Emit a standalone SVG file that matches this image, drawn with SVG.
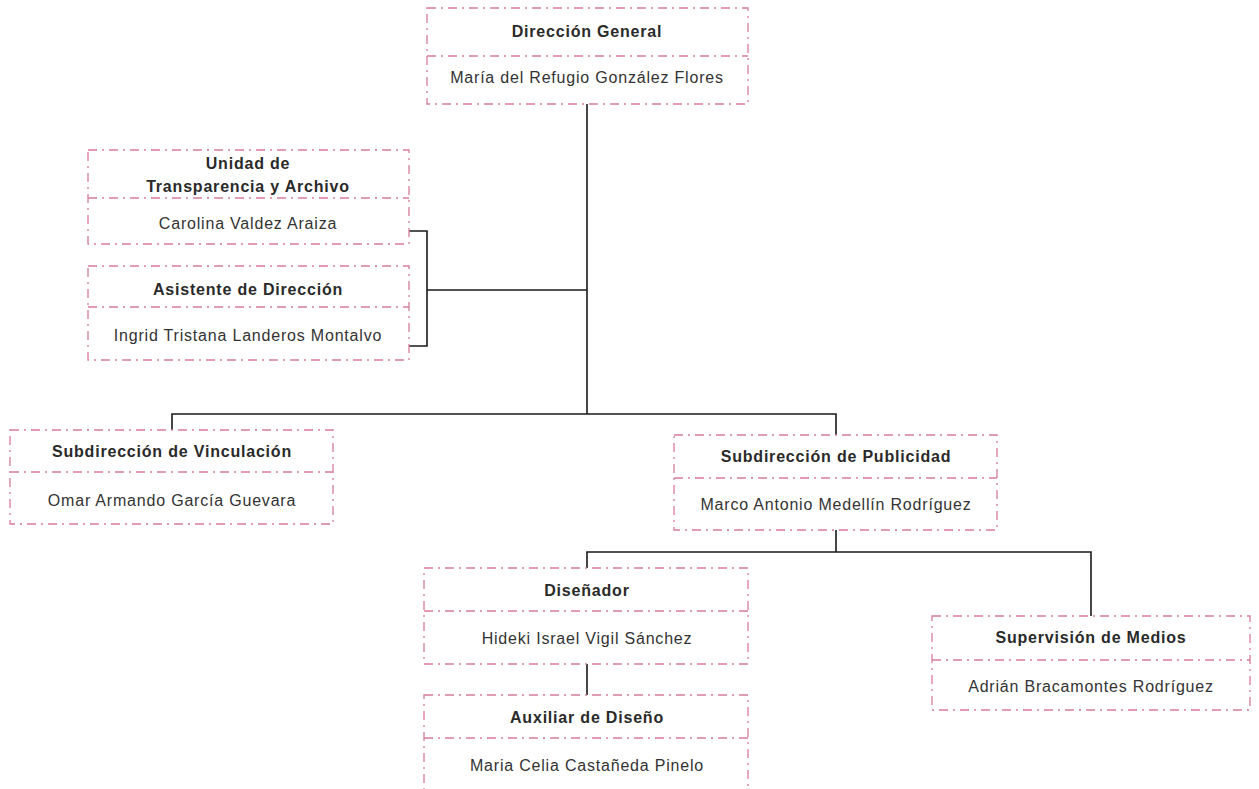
<svg xmlns="http://www.w3.org/2000/svg" width="1259" height="789" viewBox="0 0 1259 789">
<style>
.box{fill:#fff;stroke:#d67d98;stroke-width:1.3;stroke-dasharray:9 5 2 5}
.div{fill:none;stroke:#d67d98;stroke-width:1.3;stroke-dasharray:9 5 2 5}
.t{font-family:"Liberation Sans",Arial,sans-serif;font-size:16px;font-weight:bold;letter-spacing:0.8px;fill:#2a2a2a;text-anchor:middle}
.n{font-family:"Liberation Sans",Arial,sans-serif;font-size:16px;letter-spacing:0.8px;fill:#333;text-anchor:middle}
.c{fill:none;stroke:#1a1a1a;stroke-width:1.6}
</style>
<rect width="1259" height="789" fill="#fff"/>
<g id="connectors">
<path class="c" d="M587 104V414"/>
<path class="c" d="M409 231H427V346H409M427 290H587"/>
<path class="c" d="M172 430V414H836V435"/>
<path class="c" d="M836 530V552M587 568V552H1091V616"/>
<path class="c" d="M587 664V695"/>
</g>
<g id="direccion-general">
<rect class="box" x="427" y="8" width="321" height="96"/>
<path class="div" d="M427 56H748"/>
<text class="t" x="587" y="37">Dirección General</text>
<text class="n" x="587" y="83">María del Refugio González Flores</text>
</g>
<g id="unidad-transparencia">
<rect class="box" x="88" y="150" width="321" height="94"/>
<path class="div" d="M88 198H409"/>
<text class="t" x="248" y="169">Unidad de</text>
<text class="t" x="248" y="192">Transparencia y Archivo</text>
<text class="n" x="248" y="229">Carolina Valdez Araiza</text>
</g>
<g id="asistente-direccion">
<rect class="box" x="88" y="266" width="321" height="94"/>
<path class="div" d="M88 307H409"/>
<text class="t" x="248" y="295">Asistente de Dirección</text>
<text class="n" x="248" y="341">Ingrid Tristana Landeros Montalvo</text>
</g>
<g id="subdireccion-vinculacion">
<rect class="box" x="10" y="430" width="323" height="94"/>
<path class="div" d="M10 472H333"/>
<text class="t" x="172" y="457">Subdirección de Vinculación</text>
<text class="n" x="172" y="506">Omar Armando García Guevara</text>
</g>
<g id="subdireccion-publicidad">
<rect class="box" x="674" y="435" width="323" height="95"/>
<path class="div" d="M674 478H997"/>
<text class="t" x="836" y="462">Subdirección de Publicidad</text>
<text class="n" x="836" y="510">Marco Antonio Medellín Rodríguez</text>
</g>
<g id="disenador">
<rect class="box" x="424" y="568" width="324" height="96"/>
<path class="div" d="M424 611H748"/>
<text class="t" x="587" y="596">Diseñador</text>
<text class="n" x="587" y="644">Hideki Israel Vigil Sánchez</text>
</g>
<g id="auxiliar-diseno">
<rect class="box" x="424" y="695" width="324" height="98"/>
<path class="div" d="M424 738H748"/>
<text class="t" x="587" y="723">Auxiliar de Diseño</text>
<text class="n" x="587" y="771">Maria Celia Castañeda Pinelo</text>
</g>
<g id="supervision-medios">
<rect class="box" x="932" y="616" width="318" height="94"/>
<path class="div" d="M932 660H1250"/>
<text class="t" x="1091" y="643">Supervisión de Medios</text>
<text class="n" x="1091" y="692">Adrián Bracamontes Rodríguez</text>
</g>
</svg>
